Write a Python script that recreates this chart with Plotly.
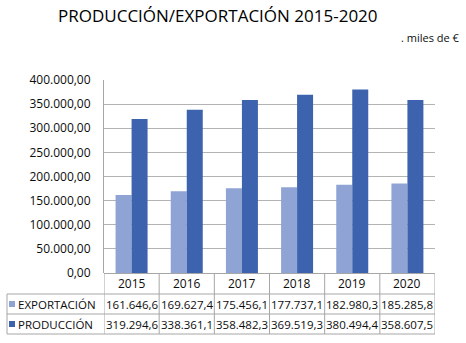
import plotly.graph_objects as go

years = ["2015", "2016", "2017", "2018", "2019", "2020"]
exportacion = [161646.6, 169627.4, 175456.1, 177737.1, 182980.3, 185285.8]
produccion = [319294.6, 338361.1, 358482.3, 369519.3, 380494.4, 358607.5]
series_names = ["EXPORTACIÓN", "PRODUCCIÓN"]
title_text = "PRODUCCIÓN/EXPORTACIÓN 2015-2020"
unit_text = ". miles de €"

C_LIGHT = "#8FA3D5"
C_DARK = "#3D63AE"
GRID = "#B3B3B3"
BORDER = "#A6A6A6"
FONT = "Open Sans"
TXT = "#0d0d0d"

W, H = 466, 343
L, R, T, B = 104, 31, 80, 70
PH = H - T - B
PW = W - L - R

def py(p):  # pixel y -> paper
    return (H - B - p) / PH

def px(p):  # pixel x -> paper
    return (p - L) / PW

def fmt(v):
    s = f"{v:,.1f}"
    return s.replace(",", "X").replace(".", ",").replace("X", ".")

x = list(range(len(years)))
fig = go.Figure()
fig.add_trace(go.Bar(x=x, y=exportacion, name=series_names[0], marker=dict(color=C_LIGHT, line=dict(width=0))))
fig.add_trace(go.Bar(x=x, y=produccion, name=series_names[1], marker=dict(color=C_DARK, line=dict(width=0))))

shapes = []
annotations = []
row_lines = [294, 314, 334]
for yy in row_lines:
    shapes.append(dict(type="line", xref="paper", yref="paper", x0=px(7), x1=1, y0=py(yy), y1=py(yy),
                       line=dict(color=BORDER, width=1)))
shapes.append(dict(type="line", xref="paper", yref="paper", x0=px(7), x1=px(7), y0=py(294), y1=py(334),
                   line=dict(color=BORDER, width=1)))
for i in range(len(years) + 1):
    shapes.append(dict(type="line", xref="x", yref="paper", x0=i - 0.5, x1=i - 0.5, y0=0, y1=py(334),
                       line=dict(color=BORDER, width=1)))
for (yc, col) in [(304, C_LIGHT), (324, C_DARK)]:
    shapes.append(dict(type="rect", xref="paper", yref="paper", x0=px(9), x1=px(15), y0=py(yc + 3), y1=py(yc - 3),
                       fillcolor=col, line=dict(width=0)))

for i, yr in enumerate(years):
    annotations.append(dict(x=i, y=py(283.5), xref="x", yref="paper", text=yr, showarrow=False,
                            font=dict(family=FONT, size=12, color=TXT), xanchor="center", yanchor="middle"))
    annotations.append(dict(x=i, y=py(304), xref="x", yref="paper", text=fmt(exportacion[i]), showarrow=False,
                            font=dict(family=FONT, size=11.5, color=TXT), xanchor="center", yanchor="middle"))
    annotations.append(dict(x=i, y=py(324), xref="x", yref="paper", text=fmt(produccion[i]), showarrow=False,
                            font=dict(family=FONT, size=11.5, color=TXT), xanchor="center", yanchor="middle"))
for name, yc in zip(series_names, [304, 324]):
    annotations.append(dict(x=px(16), y=py(yc), xref="paper", yref="paper", text=name, showarrow=False,
                            font=dict(family=FONT, size=11.5, color=TXT), xanchor="left", yanchor="middle"))

annotations.append(dict(x=px(217.5), y=py(16), xref="paper", yref="paper", text=title_text, showarrow=False,
                        font=dict(family=FONT, size=17, color="#000", weight=500), xanchor="center", yanchor="middle"))
annotations.append(dict(x=px(462), y=py(37), xref="paper", yref="paper", text=unit_text, showarrow=False,
                        font=dict(family=FONT, size=11, color=TXT), xanchor="right", yanchor="middle"))

fig.update_layout(
    width=W, height=H,
    margin=dict(l=L, r=R, t=T, b=B, pad=0),
    paper_bgcolor="white", plot_bgcolor="white",
    barmode="group", bargap=0.42, bargroupgap=0,
    showlegend=False,
    separators=",.",
    shapes=shapes, annotations=annotations,
    xaxis=dict(range=[-0.5, len(years) - 0.5], showticklabels=False, showgrid=False, zeroline=False,
               showline=False, ticks=""),
    yaxis=dict(range=[0, 400000], dtick=50000, tickformat=",.2f", showgrid=True, gridcolor=GRID, gridwidth=1,
               zeroline=True, zerolinecolor=BORDER, zerolinewidth=1,
               showline=True, linecolor=BORDER, linewidth=1, ticks="", ticklabelstandoff=10,
               tickfont=dict(family=FONT, size=12, color=TXT)),
)

fig.write_html("out.html")
